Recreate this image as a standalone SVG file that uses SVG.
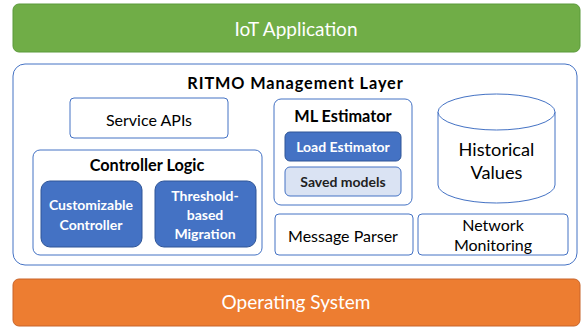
<svg xmlns="http://www.w3.org/2000/svg" width="585" height="329" viewBox="0 0 585 329">
<style>
text{font-family:"Lato","Liberation Sans",sans-serif;text-anchor:middle;dominant-baseline:central}
.box{fill:#fff;stroke:#4472c4;stroke-width:1}
.dark{fill:#4472c4;stroke:#2f5597;stroke-width:1}
.wt{fill:#fff;font-weight:bold;font-size:14px}
.t{fill:#000;font-size:16px}
.b{fill:#000;font-weight:bold;font-size:16.3px}
</style>
<rect width="585" height="329" fill="#fff"/>
<g id="iot">
<rect x="13" y="4" width="567" height="48" rx="6" fill="#70ad47" stroke="#5b9a3a"/>
<text x="296" y="28.5" fill="#fff" font-size="19">IoT Application</text>
</g>
<g id="ritmo">
<rect x="13" y="64" width="564" height="201" rx="12" class="box" stroke="#2f5597"/>
<text x="295.5" y="82.5" class="b" font-size="21" letter-spacing="0.9">RITMO Management Layer</text>
</g>
<g id="service-apis">
<rect x="70" y="98" width="158" height="40" rx="4" class="box"/>
<text x="149" y="119" class="t">Service APIs</text>
</g>
<g id="controller-logic">
<rect x="33" y="150" width="229" height="105" rx="7" class="box"/>
<text x="147" y="164" class="b">Controller Logic</text>
</g>
<g id="customizable-controller">
<rect x="41" y="181" width="101" height="66" rx="9" class="dark"/>
<text x="91" y="204" class="wt">Customizable</text>
<text x="91" y="224" class="wt">Controller</text>
</g>
<g id="threshold-migration">
<rect x="155" y="181" width="101" height="66" rx="9" class="dark"/>
<text x="205" y="195" class="wt">Threshold-</text>
<text x="205" y="214.5" class="wt">based</text>
<text x="205" y="233.5" class="wt">Migration</text>
</g>
<g id="ml-estimator">
<rect x="274" y="99" width="138" height="106" rx="7" class="box"/>
<text x="343" y="115" class="b">ML Estimator</text>
</g>
<g id="load-estimator">
<rect x="285" y="132" width="116" height="29" rx="5" class="dark"/>
<text x="343" y="146.5" class="wt">Load Estimator</text>
</g>
<g id="saved-models">
<rect x="285" y="167" width="116" height="29" rx="5" fill="#dae3f3" stroke="#4472c4"/>
<text x="343" y="181.5" fill="#1f1f1f" font-weight="bold" font-size="14">Saved models</text>
</g>
<g id="historical-values">
<path d="M438,112 L438,185 A58.5,18 0 0 0 555,185 L555,112" fill="#fff" stroke="#4472c4"/>
<ellipse cx="496.5" cy="112" rx="58.5" ry="18" fill="#fff" stroke="#4472c4"/>
<text x="496.5" y="149" fill="#000" font-size="18.2">Historical</text>
<text x="496.5" y="172" fill="#000" font-size="18.2">Values</text>
</g>
<g id="message-parser">
<rect x="275" y="214" width="138" height="41" rx="4" class="box"/>
<text x="343" y="235" class="t">Message Parser</text>
</g>
<g id="network-monitoring">
<rect x="418" y="214" width="150" height="41" rx="4" class="box"/>
<text x="493" y="224" class="t">Network</text>
<text x="493" y="244" class="t">Monitoring</text>
</g>
<g id="os">
<rect x="13" y="279" width="567" height="47" rx="6" fill="#ed7d31" stroke="#c8642a"/>
<text x="296" y="301.5" fill="#fff" font-size="19">Operating System</text>
</g>
<g id="connectors"/>
</svg>
